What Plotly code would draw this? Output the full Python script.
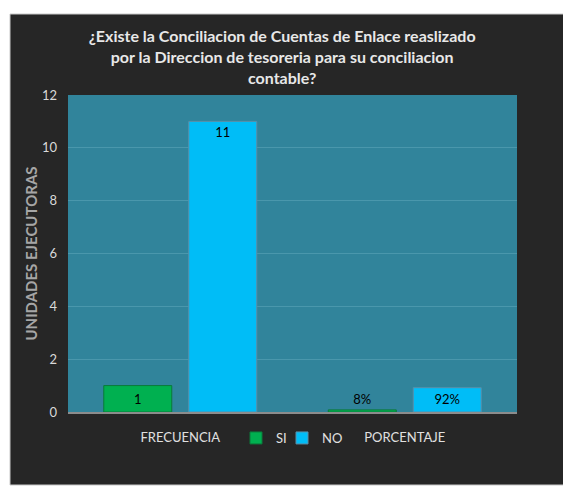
import plotly.graph_objects as go

categories = ["FRECUENCIA", "PORCENTAJE"]
si_values = [1, 0.08]
no_values = [11, 0.92]
si_labels = ["1", "8%"]
no_labels = ["11", "92%"]
y_ticks = [0, 2, 4, 6, 8, 10, 12]

W, H = 563, 491
L, R, T, B = 68, 46, 95, 79
pw, ph = W - L - R, H - T - B

def px(x):
    return (x - L) / pw

def py(y):
    return (H - B - y) / ph

fig = go.Figure()
fig.add_trace(go.Bar(
    name="SI", x=categories, y=si_values, text=si_labels,
    textposition=["inside", "outside"], insidetextanchor="middle",
    marker=dict(color="#00B050", line=dict(color="#0a7a3a", width=1)),
    textfont=dict(color="#000000", size=13, family="Lato"),
    cliponaxis=False, legend="legend",
))
fig.add_trace(go.Bar(
    name="NO", x=categories, y=no_values, text=no_labels,
    textposition=["inside", "inside"], insidetextanchor="end",
    marker=dict(color="#00BDF7", line=dict(color="#5a8fa8", width=1)),
    textfont=dict(color="#000000", size=13, family="Lato"),
    cliponaxis=False, legend="legend2",
))

legend_style = dict(orientation="h", yanchor="middle", y=py(438), xanchor="left",
                    font=dict(family="Lato", size=13, color="#e0e0e0"),
                    bgcolor="rgba(0,0,0,0)", itemwidth=30)

fig.update_layout(
    width=W, height=H,
    margin=dict(l=L, r=R, t=T, b=B),
    paper_bgcolor="white",
    plot_bgcolor="#31849B",
    barmode="group", bargap=0.243, bargroupgap=0.2,
    title=dict(
        text="¿Existe la Conciliacion de Cuentas de Enlace reaslizado<br>por la Direccion de tesoreria para su conciliacion<br>contable?",
        x=px(293), xanchor="center", y=1 - 42 / H, yanchor="middle",
        font=dict(family="Lato", size=16, color="#e8e8e8", weight="bold"),
    ),
    showlegend=True,
    legend=dict(legend_style, x=px(236)),
    legend2=dict(legend_style, x=px(282)),
    shapes=[
        dict(type="rect", xref="paper", yref="paper",
             x0=px(10), x1=px(570), y0=py(485), y1=py(14),
             fillcolor="#262626", line=dict(color="#c8c8c8", width=1), layer="below"),
        dict(type="rect", xref="paper", yref="paper",
             x0=0, x1=1, y0=0, y1=1,
             fillcolor="#31849B", line=dict(width=0), layer="below"),
    ],
)
fig.update_xaxes(
    showgrid=False, showline=True, linecolor="#8c8c8c", linewidth=2,
    tickfont=dict(family="Lato", size=13, color="#e0e0e0"), ticks="",
    ticklabelstandoff=12,
)
fig.update_yaxes(
    range=[0, 12], tickvals=y_ticks, showgrid=True, gridcolor="#4a97ac", gridwidth=1,
    zeroline=False, ticks="", tickfont=dict(family="Lato", size=13, color="#d9d9d9"),
    ticklabelstandoff=10,
    title=dict(text="UNIDADES EJECUTORAS", standoff=0,
               font=dict(family="Lato", size=15, color="#a6a6a6", weight="bold")),
)
fig.write_html("out.html", post_script="document.body.style.margin='0';",
               config={"displayModeBar": False})
